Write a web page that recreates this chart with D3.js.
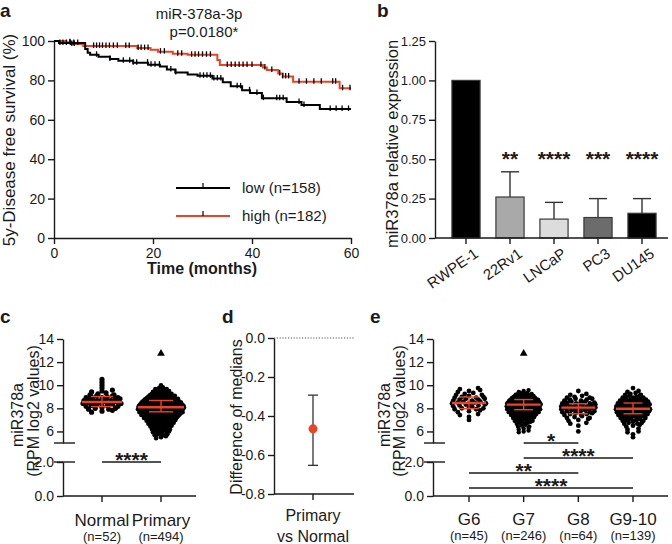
<!DOCTYPE html>
<html><head><meta charset="utf-8">
<script src="https://cdn.jsdelivr.net/npm/d3@7"></script>
<style>body{margin:0;background:#fff} svg{font-family:"Liberation Sans", Arial, Helvetica, sans-serif}</style>
</head><body><svg id="c" width="672" height="544"></svg>
<script>
// ---------- DATA ----------
// Panel a: Kaplan-Meier steps (months, % survival)
const kmLowTimes = [0, 1, 6.3, 6.8, 7.3, 9, 11.3, 13, 16, 19, 21.4, 22.8, 24.5, 27, 29, 32, 34.1, 35.7, 38, 39.6, 42, 47, 50, 53.7];
const kmLowSurv  = [100, 99, 96, 94, 93, 92, 90.8, 90, 89, 88, 87, 85.5, 84, 83, 82.3, 81, 79, 77, 75, 73.6, 71, 69, 67.5, 65.5];
const kmHighTimes = [0, 2.5, 3.5, 5.9, 16.8, 19.5, 21, 24, 27, 33, 33.5, 42.2, 43, 45.3, 46.2, 48.3, 57.7];
const kmHighSurv  = [100, 99.4, 98.5, 97.5, 96.4, 95.5, 94.6, 93.5, 93, 90.4, 87.8, 86.5, 85.3, 83.5, 82, 79.3, 76];
const kmLowCensor = [1.2, 1.8, 2.5, 3.3, 4, 4.8, 8.6, 11.3, 14, 15.3, 16, 16.7, 18.9, 19.6, 20.4, 21.3, 23.6, 24.6, 29.5, 30.2, 30.9, 31.6, 32.3, 33, 33.7, 37, 37.7, 39.5, 41, 42.3, 45, 45.6, 46.3, 49.5, 50.5, 55.8, 57, 58.2, 59.5];
const kmHighCensor = [3.2, 3.6, 4.1, 8, 8.6, 9.2, 9.8, 10.5, 11.2, 12, 12.8, 14.5, 15.2, 17, 17.6, 18.3, 19, 21.5, 22.3, 25, 25.8, 27.8, 28.5, 29.2, 30, 30.8, 31.6, 35, 35.8, 36.6, 37.4, 38.2, 39, 40, 41.8, 42.6, 44, 45.6, 46.2, 46.8, 47.4, 49.5, 51, 52.5, 54, 56.3, 56.9, 58.3, 59.8];
const survTicks = [0, 20, 40, 60, 80, 100];
const timeTicks = [0, 20, 40, 60];
const kmLegend = ["low (n=158)", "high (n=182)"];

// Panel b
const cellLines = ["RWPE-1", "22Rv1", "LNCaP", "PC3", "DU145"];
const relExpr   = [1.00, 0.26, 0.12, 0.13, 0.157];
const relErr    = [0, 0.16, 0.106, 0.12, 0.093];
const relStars  = ["", "**", "****", "***", "****"];
const exprTicks = [0, 0.25, 0.5, 0.75, 1.0, 1.25];

// Panel c: binned values [log2 RPM, count]
const cGroups = ["Normal", "Primary"];
const cN = ["(n=52)", "(n=494)"];
const cNormalBins = [[10.5,1],[10.25,1],[10,1],[9.75,1],[9.5,3],[9.25,4],[9,7],[8.75,9],[8.5,10],[8.25,7],[8,5],[7.75,3]];
const cPrimaryBins = [[12.75,1],[10,1],[9.75,4],[9.5,8],[9.25,14],[9,24],[8.75,36],[8.5,50],[8.25,62],[8,66],[7.75,58],[7.5,48],[7.25,36],[7,26],[6.75,20],[6.5,14],[6.25,10],[6,8],[5.75,5],[5.5,3]];
const cMedian = [8.55, 8.1];
const cQ1 = [8.15, 7.7];
const cQ3 = [9.02, 8.68];
const upperTicks = [6, 8, 10, 12, 14];
const lowerTicks = [0, 2];

// Panel d
const dCategory = ["Primary", "vs Normal"];
const dDiff = [-0.466];
const dLow = [-0.653];
const dHigh = [-0.293];
const dTicks = [0, -0.2, -0.4, -0.6, -0.8];

// Panel e
const eGroups = ["G6", "G7", "G8", "G9-10"];
const eN = ["(n=45)", "(n=246)", "(n=64)", "(n=139)"];
const eG6Bins = [[9.75,2],[9.5,3],[9.25,4],[9,5],[8.75,6],[8.5,7],[8.25,6],[8,5],[7.75,3],[7.5,2],[7.25,1],[7,1]];
const eG7Bins = [[12.75,1],[9.5,3],[9.25,8],[9,16],[8.75,26],[8.5,34],[8.25,36],[8,34],[7.75,28],[7.5,20],[7.25,14],[7,10],[6.75,6],[6.5,4],[6.25,3],[6,3]];
const eG8Bins = [[9.5,1],[9.25,2],[9,4],[8.75,6],[8.5,8],[8.25,9],[8,9],[7.75,8],[7.5,6],[7.25,4],[7,3],[6.75,2],[6.5,1],[6,1]];
const eG910Bins = [[9.75,1],[9.5,2],[9.25,4],[9,7],[8.75,11],[8.5,15],[8.25,18],[8,19],[7.75,17],[7.5,14],[7.25,10],[7,7],[6.75,5],[6.5,3],[6.25,2],[6,2],[5.75,1],[5.5,1]];
const eMedian = [8.46, 8.32, 8.06, 7.97];
const eQ1 = [7.97, 7.88, 7.53, 7.53];
const eQ3 = [8.98, 8.76, 8.4, 8.46];
const eSig = [["G7","G8","*"],["G7","G9-10","****"],["G6","G8","**"],["G6","G9-10","****"]];

// ---------- DRAW ----------
const svg = d3.select("#c");
const RED = "#ec4226";
const INK = "#1a1a1a";

function styleAxis(g, fs) {
  g.selectAll("path.domain").attr("stroke", INK).attr("stroke-width", 1.4);
  g.selectAll(".tick line").attr("stroke", INK).attr("stroke-width", 1.4);
  g.selectAll(".tick text").attr("fill", INK).style("font-size", fs + "px").style("font-family", "Liberation Sans, Arial, sans-serif");
}
function label(x, y, t, opts = {}) {
  const el = svg.append("text").attr("x", x).attr("y", y).text(t)
    .attr("fill", INK).style("font-size", (opts.size || 16) + "px")
    .attr("text-anchor", opts.anchor || "middle");
  if (opts.bold) el.attr("font-weight", "bold");
  if (opts.rot) el.attr("transform", `rotate(${opts.rot},${x},${y})`);
  return el;
}
// panel letters
label(0, 17, "a", {bold: true, size: 19, anchor: "start"});
label(377, 17, "b", {bold: true, size: 19, anchor: "start"});
label(0, 323, "c", {bold: true, size: 19, anchor: "start"});
label(222, 323, "d", {bold: true, size: 19, anchor: "start"});
label(370, 323, "e", {bold: true, size: 19, anchor: "start"});

// ===== Panel a =====
const xA = d3.scaleLinear().domain([0, 60]).range([54, 351]);
const yA = d3.scaleLinear().domain([0, 100]).range([238, 41]);
styleAxis(svg.append("g").attr("transform", "translate(54,0)")
  .call(d3.axisLeft(yA).tickValues(survTicks).tickSize(6).tickSizeOuter(0).tickPadding(3)), 14);
styleAxis(svg.append("g").attr("transform", "translate(0,238)")
  .call(d3.axisBottom(xA).tickValues(timeTicks).tickSize(6).tickSizeOuter(0).tickPadding(4)), 14);
label(202, 274, "Time (months)", {bold: true, size: 16});
label(15, 140, "5y-Disease free survival (%)", {size: 17, rot: -90});
label(199, 19, "miR-378a-3p", {size: 15});
label(204, 37, "p=0.0180*", {size: 15});

function survAt(times, surv, t) {
  let s = surv[0];
  for (let i = 0; i < times.length; i++) if (times[i] <= t) s = surv[i];
  return s;
}
const stepLine = d3.line().x(d => xA(d[0])).y(d => yA(d[1])).curve(d3.curveStepAfter);
function kmPts(times, surv) {
  const p = times.map((t, i) => [t, surv[i]]);
  p.push([60, surv[surv.length - 1]]);
  return p;
}
svg.append("path").attr("d", stepLine(kmPts(kmHighTimes, kmHighSurv))).attr("fill", "none").attr("stroke", RED).attr("stroke-width", 2);
svg.append("path").attr("d", stepLine(kmPts(kmLowTimes, kmLowSurv))).attr("fill", "none").attr("stroke", "#000").attr("stroke-width", 2);
function censors(times, surv, cens) {
  svg.append("g").selectAll("line").data(cens).join("line")
    .attr("x1", d => xA(d)).attr("x2", d => xA(d))
    .attr("y1", d => yA(survAt(times, surv, d)) - 3.5).attr("y2", d => yA(survAt(times, surv, d)) + 2)
    .attr("stroke", "#000").attr("stroke-width", 1.3);
}
censors(kmHighTimes, kmHighSurv, kmHighCensor);
censors(kmLowTimes, kmLowSurv, kmLowCensor);
// legend
[["#000", 188], [RED, 216]].forEach(([c, y], i) => {
  svg.append("line").attr("x1", 176).attr("x2", 230).attr("y1", y).attr("y2", y).attr("stroke", c).attr("stroke-width", 2.2);
  svg.append("line").attr("x1", 203).attr("x2", 203).attr("y1", y - 5).attr("y2", y).attr("stroke", "#000").attr("stroke-width", 1.2);
  label(242, y + 5, kmLegend[i], {size: 15, anchor: "start"});
});

// ===== Panel b =====
const xB = d3.scaleBand().domain(cellLines).range([444, 664]).paddingInner(0.36).paddingOuter(0.18);
const yB = d3.scaleLinear().domain([0, 1.25]).range([238, 41]);
styleAxis(svg.append("g").attr("transform", "translate(435,0)")
  .call(d3.axisLeft(yB).tickValues(exprTicks).tickFormat(d3.format(".2f")).tickSize(6).tickSizeOuter(0).tickPadding(3)), 13);
const barFill = ["#000000", "#a9a9a9", "#dcdcdc", "#6c6c6c", "#000000"];
svg.append("g").selectAll("rect").data(cellLines).join("rect")
  .attr("x", d => xB(d)).attr("width", xB.bandwidth())
  .attr("y", (d, i) => yB(relExpr[i])).attr("height", (d, i) => 238 - yB(relExpr[i]))
  .attr("fill", (d, i) => barFill[i]).attr("stroke", "#3a3a3a").attr("stroke-width", 1.2);
cellLines.forEach((c, i) => {
  if (!relErr[i]) return;
  const cx = xB(c) + xB.bandwidth() / 2;
  const top = yB(relExpr[i] + relErr[i]);
  svg.append("line").attr("x1", cx).attr("x2", cx).attr("y1", yB(relExpr[i])).attr("y2", top).attr("stroke", "#333").attr("stroke-width", 1.4);
  svg.append("line").attr("x1", cx - 9).attr("x2", cx + 9).attr("y1", top).attr("y2", top).attr("stroke", "#333").attr("stroke-width", 1.4);
  label(cx, 166, relStars[i], {bold: true, size: 21});
});
const axB = svg.append("g").attr("transform", "translate(0,238)")
  .call(d3.axisBottom(xB).tickSize(6).tickSizeOuter(0).tickPadding(4));
styleAxis(axB, 15);
axB.select("path.domain").remove();
axB.append("line").attr("x1", 435).attr("x2", 668).attr("y1", 0).attr("y2", 0).attr("stroke", INK).attr("stroke-width", 1.4);
axB.selectAll(".tick text").attr("text-anchor", "end").attr("dy", "0.3em")
  .attr("transform", "translate(5,6) rotate(-35)");
label(398, 144, "miR378a relative expression", {size: 16.5, rot: -90});

// ===== Broken-axis dot plots (c, e) =====
function brokenAxis(ax, x2) {
  const yUp = d3.scaleLinear().domain([5, 14]).range([443, 339]);
  const yLo = d3.scaleLinear().domain([0, 2]).range([496, 462]);
  styleAxis(svg.append("g").attr("transform", `translate(${ax},0)`)
    .call(d3.axisLeft(yUp).tickValues(upperTicks).tickSize(6).tickSizeOuter(0).tickPadding(3)), 14);
  styleAxis(svg.append("g").attr("transform", `translate(${ax},0)`)
    .call(d3.axisLeft(yLo).tickValues(lowerTicks).tickSize(6).tickSizeOuter(0).tickPadding(3)), 14);
  [443, 462].forEach(y => svg.append("line").attr("x1", ax - 9).attr("x2", ax + 12).attr("y1", y).attr("y2", y).attr("stroke", INK).attr("stroke-width", 1.4));
  svg.append("line").attr("x1", ax).attr("x2", x2).attr("y1", 496).attr("y2", 496).attr("stroke", INK).attr("stroke-width", 1.4);
  return {yUp, yLo};
}
function swarm(bins, cx, yUp, maxHalf, r) {
  const g = svg.append("g");
  const cmax = d3.max(bins, b => b[0] < 12 ? b[1] : 0);
  bins.forEach(([v, n]) => {
    if (v > 12) {
      g.append("path").attr("d", d3.symbol(d3.symbolTriangle, 26)()).attr("transform", `translate(${cx},${yUp(v)})`).attr("fill", "#000");
      return;
    }
    const half = maxHalf * Math.sqrt(n / cmax);
    for (let i = 0; i < n; i++) {
      const t = n === 1 ? 0 : (i / (n - 1)) * 2 - 1;
      const dv = n === 1 ? 0 : ((i % 3) - 1) * 0.08;
      g.append("circle").attr("cx", cx + t * half).attr("cy", yUp(v + dv)).attr("r", r).attr("fill", "#000");
    }
  });
}
function medianIQR(cx, yUp, med, q1, q3, half, cap) {
  svg.append("line").attr("x1", cx).attr("x2", cx).attr("y1", yUp(q1)).attr("y2", yUp(q3)).attr("stroke", RED).attr("stroke-width", 1.4);
  [q1, q3].forEach(q => svg.append("line").attr("x1", cx - cap).attr("x2", cx + cap).attr("y1", yUp(q)).attr("y2", yUp(q)).attr("stroke", RED).attr("stroke-width", 1.4));
  svg.append("line").attr("x1", cx - half).attr("x2", cx + half).attr("y1", yUp(med)).attr("y2", yUp(med)).attr("stroke", RED).attr("stroke-width", 2.4);
}

// Panel c
const c = brokenAxis(63, 196);
const xC = d3.scalePoint().domain(cGroups).range([102, 161]);
[102, 161].forEach(x => svg.append("line").attr("x1", x).attr("x2", x).attr("y1", 496).attr("y2", 502).attr("stroke", INK).attr("stroke-width", 1.4));
swarm(cNormalBins, xC("Normal"), c.yUp, 19, 2.6);
swarm(cPrimaryBins, xC("Primary"), c.yUp, 23, 2.3);
cGroups.forEach((gname, i) => {
  medianIQR(xC(gname), c.yUp, cMedian[i], cQ1[i], cQ3[i], i ? 23 : 20, i ? 12 : 11);
  label(xC(gname), 526, gname, {size: 17});
  label(xC(gname), 541, cN[i], {size: 13});
});
svg.append("line").attr("x1", xC("Normal")).attr("x2", xC("Primary")).attr("y1", c.yLo(2)).attr("y2", c.yLo(2)).attr("stroke", INK).attr("stroke-width", 1.4);
label((xC("Normal") + xC("Primary")) / 2, 467, "****", {bold: true, size: 21});
label(23, 415, "miR378a", {size: 16, rot: -90});
label(39, 411, "(RPM log2 values)", {size: 16, rot: -90});

// Panel d
const yD = d3.scaleLinear().domain([-0.8, 0]).range([494, 338]);
const xD = d3.scalePoint().domain(["Primary vs Normal"]).range([313, 313]);
styleAxis(svg.append("g").attr("transform", "translate(274,0)")
  .call(d3.axisLeft(yD).tickValues(dTicks).tickFormat(d => d.toFixed(1)).tickSize(6).tickSizeOuter(0).tickPadding(3)), 14);
svg.append("line").attr("x1", 274).attr("x2", 354).attr("y1", 494).attr("y2", 494).attr("stroke", INK).attr("stroke-width", 1.4);
svg.append("line").attr("x1", 274).attr("x2", 354).attr("y1", yD(0)).attr("y2", yD(0)).attr("stroke", "#555").attr("stroke-width", 1).attr("stroke-dasharray", "1.2,1.6");
const dx = xD("Primary vs Normal");
svg.append("line").attr("x1", dx).attr("x2", dx).attr("y1", 494).attr("y2", 500).attr("stroke", INK).attr("stroke-width", 1.4);
svg.append("line").attr("x1", dx).attr("x2", dx).attr("y1", yD(dLow[0])).attr("y2", yD(dHigh[0])).attr("stroke", "#333").attr("stroke-width", 1.3);
[dLow[0], dHigh[0]].forEach(v => svg.append("line").attr("x1", dx - 5).attr("x2", dx + 5).attr("y1", yD(v)).attr("y2", yD(v)).attr("stroke", "#333").attr("stroke-width", 1.3));
svg.append("circle").attr("cx", dx).attr("cy", yD(dDiff[0])).attr("r", 4.5).attr("fill", RED);
label(dx, 521, dCategory[0], {size: 16});
label(dx, 542, dCategory[1], {size: 16});
label(242, 417, "Difference of medians", {size: 16, rot: -90});

// Panel e
const e = brokenAxis(433, 668);
const xE = d3.scalePoint().domain(eGroups).range([469, 633]);
const eBins = [eG6Bins, eG7Bins, eG8Bins, eG910Bins];
eGroups.forEach((gname, i) => {
  const cx = xE(gname);
  svg.append("line").attr("x1", cx).attr("x2", cx).attr("y1", 496).attr("y2", 502).attr("stroke", INK).attr("stroke-width", 1.4);
  swarm(eBins[i], cx, e.yUp, 17, i === 1 ? 2.2 : 2.4);
  medianIQR(cx, e.yUp, eMedian[i], eQ1[i], eQ3[i], 17, 9.5);
  label(cx, 525, gname, {size: 17});
  label(cx, 540, eN[i], {size: 13});
});
const sigY = d3.scaleLinear().domain([0, 3]).range([443, 488]);
eSig.forEach(([a, b, s], i) => {
  const y = sigY(i);
  svg.append("line").attr("x1", xE(a)).attr("x2", xE(b)).attr("y1", y).attr("y2", y).attr("stroke", INK).attr("stroke-width", 1.4);
  label((xE(a) + xE(b)) / 2, y + 5, s, {bold: true, size: 21});
});
label(390, 415, "miR378a", {size: 16, rot: -90});
label(405, 411, "(RPM log2 values)", {size: 16, rot: -90});
</script></body></html>
